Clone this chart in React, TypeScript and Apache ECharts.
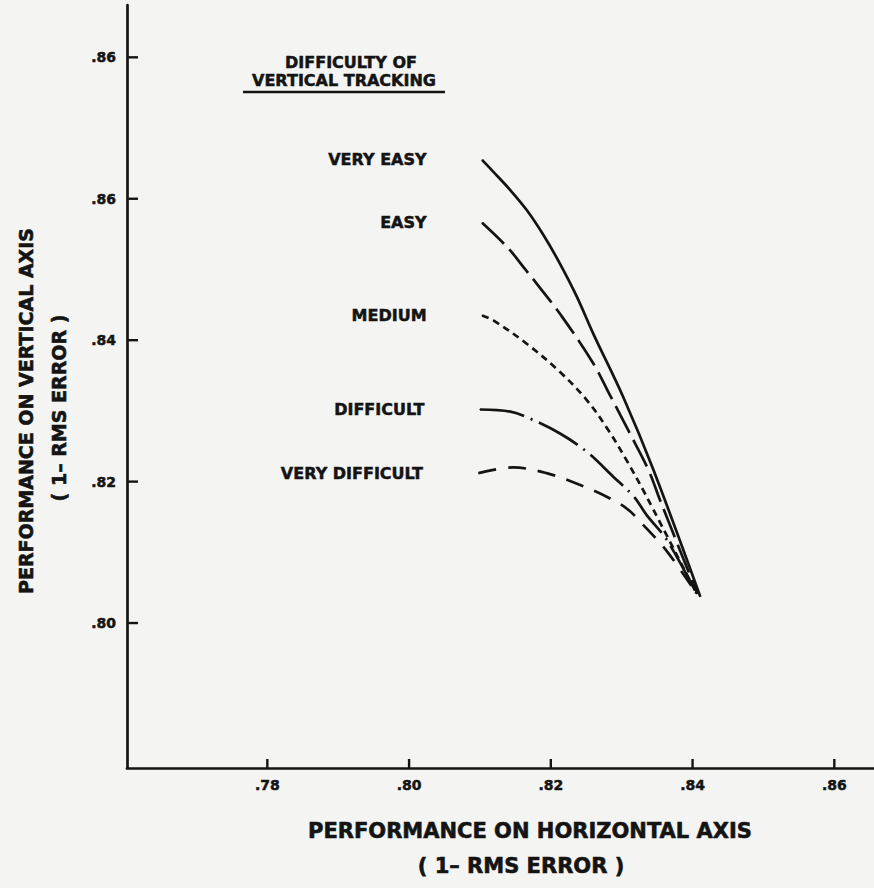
import React, { useEffect, useRef } from "react";
import * as echarts from "echarts";

// ---- data ----
const xTicks = [0.78, 0.8, 0.82, 0.84, 0.86];
const xTickLabels = [".78", ".80", ".82", ".84", ".86"];
const yTicks = [0.8, 0.82, 0.84, 0.86, 0.88];
const yTickLabels = [".80", ".82", ".84", ".86", ".86"];

const seriesNames = ["VERY EASY", "EASY", "MEDIUM", "DIFFICULT", "VERY DIFFICULT"];

const veryEasyX = [0.8103, 0.8119, 0.8143, 0.8166, 0.819, 0.8213, 0.8237, 0.826, 0.8302, 0.8345, 0.8411];
const veryEasyY = [0.8655, 0.8638, 0.8612, 0.8584, 0.8548, 0.8508, 0.8461, 0.8409, 0.832, 0.8216, 0.8037];

const easyX = [0.8103, 0.814, 0.8164, 0.818, 0.8216, 0.826, 0.8281, 0.8309, 0.8338, 0.8354, 0.8407];
const easyY = [0.8566, 0.853, 0.85, 0.848, 0.8433, 0.8367, 0.8327, 0.8273, 0.8216, 0.8174, 0.8041];

const mediumX = [0.8103, 0.8119, 0.8166, 0.8213, 0.8251, 0.8281, 0.8307, 0.8335, 0.8406];
const mediumY = [0.8435, 0.8428, 0.8395, 0.8355, 0.8315, 0.8273, 0.823, 0.8179, 0.8041];

const difficultX = [0.81, 0.8143, 0.8171, 0.8213, 0.8251, 0.8288, 0.8317, 0.8335, 0.8364, 0.8406];
const difficultY = [0.8302, 0.8299, 0.8289, 0.8268, 0.8242, 0.8207, 0.8179, 0.8153, 0.8117, 0.8041];

const veryDifficultX = [0.8098, 0.8147, 0.8194, 0.8237, 0.8274, 0.8307, 0.8333, 0.8365, 0.8406];
const veryDifficultY = [0.8212, 0.822, 0.8212, 0.8197, 0.8181, 0.8162, 0.8136, 0.81, 0.8041];

const xMin = 0.7602;
const xMax = 0.8656;
const yMin = 0.7795;
const yMax = 0.8874;

const INK = "#141414";
const PAPER = "#f4f4f2";
const FONT = "'DejaVu Sans', sans-serif";

function zip(xs: number[], ys: number[]) {
  return xs.map((x, i) => [x, ys[i]]);
}

export default function App() {
  const ref = useRef<HTMLDivElement>(null);

  useEffect(() => {
    if (!ref.current) return;
    const chart = echarts.init(ref.current, null, { renderer: "svg" });

    const curves = [
      { x: veryEasyX, y: veryEasyY, dash: "solid" as any },
      { x: easyX, y: easyY, dash: [30, 8] },
      { x: mediumX, y: mediumY, dash: [7, 5] },
      { x: difficultX, y: difficultY, dash: [45, 7, 2, 7] },
      { x: veryDifficultX, y: veryDifficultY, dash: [18, 12] },
    ];

    const heavy = { textBorderColor: INK, textBorderWidth: 0.5 };

    const series: any[] = curves.map((c, si) => {
      const pts = zip(c.x, c.y);
      return {
        type: "line",
        name: seriesNames[si],
        smooth: 0.35,
        showSymbol: true,
        symbol: "circle",
        symbolSize: (_v: any, p: any) => (p.dataIndex === 0 ? 1 : 0),
        itemStyle: { color: INK },
        lineStyle: { color: INK, width: 2.7, type: c.dash, cap: "butt" },
        silent: true,
        z: 3,
        data: pts.map((p, i) =>
          i === 0
            ? {
                value: p,
                label: {
                  show: true,
                  position: "left",
                  distance: 55,
                  formatter: seriesNames[si],
                  color: INK,
                  fontFamily: FONT,
                  fontWeight: "bold",
                  fontSize: 16,
                  ...heavy,
                },
              }
            : { value: p }
        ),
      };
    });

    // inside axis ticks, placed through the axes' own scales
    series.push({
      type: "custom",
      clip: false,
      z: 10,
      data: xTicks.map((v) => [v, yMin]),
      renderItem: (_p: any, api: any) => {
        const pt = api.coord([api.value(0), api.value(1)]);
        return {
          type: "rect",
          shape: { x: pt[0] - 1.2, y: pt[1] - 9, width: 2.4, height: 9 },
          style: { fill: INK },
        };
      },
    });
    series.push({
      type: "custom",
      clip: false,
      z: 10,
      data: yTicks.map((v) => [xMin, v]),
      renderItem: (_p: any, api: any) => {
        const pt = api.coord([api.value(0), api.value(1)]);
        return {
          type: "rect",
          shape: { x: pt[0], y: pt[1] - 1.2, width: 11, height: 2.4 },
          style: { fill: INK },
        };
      },
    });

    const labelFmt = (vals: number[], labels: string[]) => (v: number) => {
      let best = 0;
      for (let i = 0; i < vals.length; i++) {
        if (Math.abs(vals[i] - v) < Math.abs(vals[best] - v)) best = i;
      }
      return Math.abs(vals[best] - v) < 0.001 ? labels[best] : "";
    };

    const axisLabelBase = {
      show: true,
      color: INK,
      fontFamily: FONT,
      fontWeight: "bold",
      fontSize: 14,
      ...heavy,
    };

    const textStyle = (size: number, lw: number) => ({
      fill: INK,
      font: `bold ${size}px ${FONT}`,
      align: "center",
      verticalAlign: "middle",
      stroke: INK,
      lineWidth: lw,
    });

    chart.setOption({
      animation: false,
      grid: {
        left: 127,
        top: 5,
        right: 0,
        bottom: 120,
        containLabel: false,
        outerBoundsMode: "none",
      },
      xAxis: {
        type: "value",
        min: xMin,
        max: xMax,
        splitNumber: 5,
        axisLine: { show: true, lineStyle: { color: INK, width: 2.7 } },
        axisTick: { show: false },
        axisLabel: {
          ...axisLabelBase,
          formatter: labelFmt(xTicks, xTickLabels),
          margin: 10,
        },
        splitLine: { show: false },
      },
      yAxis: {
        type: "value",
        min: yMin,
        max: yMax,
        splitNumber: 5,
        axisLine: { show: true, lineStyle: { color: INK, width: 2.7 } },
        axisTick: { show: false },
        axisLabel: {
          ...axisLabelBase,
          formatter: labelFmt(yTicks, yTickLabels),
          margin: 11,
        },
        splitLine: { show: false },
      },
      graphic: [
        { type: "text", x: 351, y: 62, style: { text: "DIFFICULTY OF", ...textStyle(16, 0.5) } },
        { type: "text", x: 344, y: 80, style: { text: "VERTICAL TRACKING", ...textStyle(16, 0.5) } },
        {
          type: "line",
          shape: { x1: 243, y1: 92, x2: 445, y2: 92 },
          style: { stroke: INK, lineWidth: 2.5 },
        },
        {
          type: "text",
          x: 530,
          y: 831,
          style: { text: "PERFORMANCE ON HORIZONTAL AXIS", ...textStyle(21, 0.6) },
        },
        { type: "text", x: 521, y: 866, style: { text: "( 1– RMS ERROR )", ...textStyle(21, 0.6) } },
        {
          type: "text",
          x: 26,
          y: 411,
          rotation: Math.PI / 2,
          style: { text: "PERFORMANCE ON VERTICAL AXIS", ...textStyle(19, 0.6) },
        },
        {
          type: "text",
          x: 59,
          y: 408,
          rotation: Math.PI / 2,
          style: { text: "( 1– RMS ERROR )", ...textStyle(19, 0.6) },
        },
      ],
      series,
    } as any);

    return () => chart.dispose();
  }, []);

  return (
    <div
      ref={ref}
      style={{
        position: "fixed",
        left: 0,
        top: 0,
        width: 874,
        height: 888,
        background: PAPER,
      }}
    />
  );
}
